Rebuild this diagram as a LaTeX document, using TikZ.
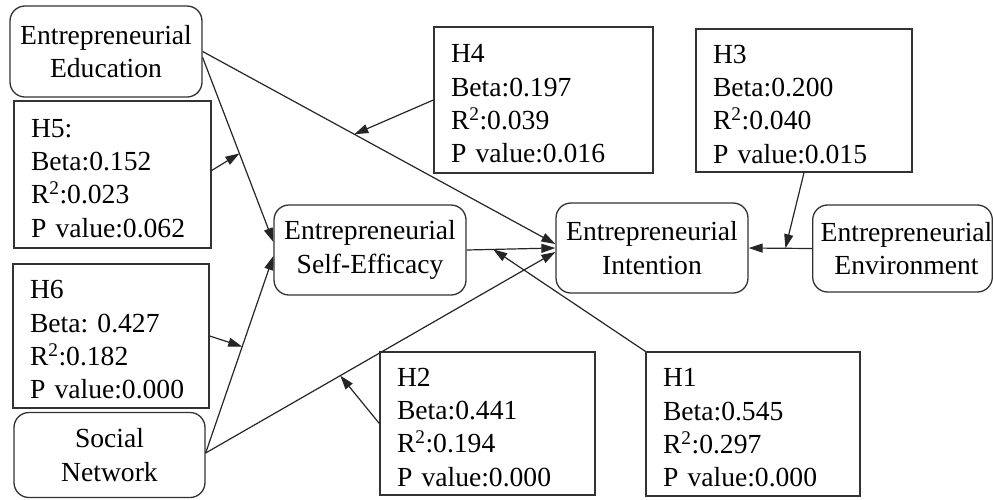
\documentclass[tikz,border=0pt]{standalone}
\usepackage{fontspec}
\setmainfont{Liberation Serif}
\usetikzlibrary{arrows.meta,calc}
\newcommand{\topstrut}{\rule{0pt}{26pt}}
\begin{document}
\begin{tikzpicture}[x=1pt,y=-1pt,
  every node/.style={font=\fontsize{27.6}{33.3}\selectfont\frenchspacing, text=black},
  conc/.style={draw=black!80, line width=1.3pt, rounded corners=15pt, align=center, inner sep=0pt},
  hyp/.style={draw=black!80, line width=1.3pt, align=left, inner xsep=17pt, inner ysep=0pt},
  arr/.style={draw=black!85, line width=1.2pt, -{Triangle[length=14pt,width=9pt]}}
]
\fill[white] (0,0) rectangle (993,499);
\useasboundingbox (0,0) rectangle (993,499);

% concept boxes
\node[conc, minimum width=192pt, minimum height=91pt] (edu) at (106,51.5) {Entrepreneurial\\Education};
\node[conc, minimum width=192pt, minimum height=90pt] (se) at (370,250) {Entrepreneurial\\Self-Efficacy};
\node[conc, minimum width=192pt, minimum height=90pt] (int) at (652,248) {Entrepreneurial\\Intention};
\node[conc, minimum width=179pt, minimum height=87pt] (env) at (902.5,248.5) {\hspace*{8pt}Entrepreneurial\\\hspace*{8pt}Environment};
\node[conc, minimum width=191pt, minimum height=85pt] (sn) at (109.5,455) {Social\\Network};

% hypothesis boxes
\node[hyp, text width=163pt, minimum height=147pt] (h5) at (112.5,174.5) {\topstrut H5:\\Beta:0.152\\R\textsuperscript{2}:0.023\\P value:0.062};
\node[hyp, text width=185pt, minimum height=146pt] (h4) at (543.5,100) {\topstrut H4\\Beta:0.197\\R\textsuperscript{2}:0.039\\P value:0.016};
\node[hyp, text width=182pt, minimum height=143pt] (h3) at (804,100.5) {\topstrut H3\\Beta:0.200\\R\textsuperscript{2}:0.040\\P value:0.015};
\node[hyp, text width=162pt, minimum height=144pt] (h6) at (111,336) {\topstrut H6\\Beta: 0.427\\R\textsuperscript{2}:0.182\\P value:0.000};
\node[hyp, text width=181pt, minimum height=143pt] (h2) at (487.5,423.5) {\topstrut H2\\Beta:0.441\\R\textsuperscript{2}:0.194\\P value:0.000};
\node[hyp, text width=180pt, minimum height=144pt] (h1) at (753,424) {\topstrut H1\\Beta:0.545\\R\textsuperscript{2}:0.297\\P value:0.000};

% main paths
\draw[arr] (edu.east) -- ([yshift=4pt]int.west);
\draw[arr] ([yshift=-6pt]edu.east) -- ([yshift=8pt]se.west);
\draw[arr] ([yshift=2pt]sn.east) -- ([yshift=-6pt]se.west);
\draw[arr] ([yshift=2pt]sn.east) -- ([yshift=-4pt]int.west);
\draw[arr] (se.east) -- (int.west);
\draw[arr] (env.west) -- (int.east);

% points on paths
\coordinate (p4) at ($(edu.east)!0.43!([yshift=4pt]int.west)$);
\coordinate (p5) at ($([yshift=-6pt]edu.east)!0.52!([yshift=8pt]se.west)$);
\coordinate (p6) at ($([yshift=2pt]sn.east)!0.54!([yshift=-6pt]se.west)$);
\coordinate (p2) at ($([yshift=2pt]sn.east)!0.385!([yshift=-4pt]int.west)$);
\coordinate (p1) at ($(se.east)!0.3!(int.west)$);
\coordinate (p3) at ($(int.east)!0.58!(env.west)$);

% moderator arrows
\draw[arr] (h4.west) -- (p4);
\draw[arr] ([yshift=4pt]h5.east) -- (p5);
\draw[arr] (h6.east) -- (p6);
\draw[arr] (h2.west) -- (p2);
\draw[arr] (h1.north west) -- (p1);
\draw[arr] (h3.south) -- (p3);
\end{tikzpicture}
\end{document}
